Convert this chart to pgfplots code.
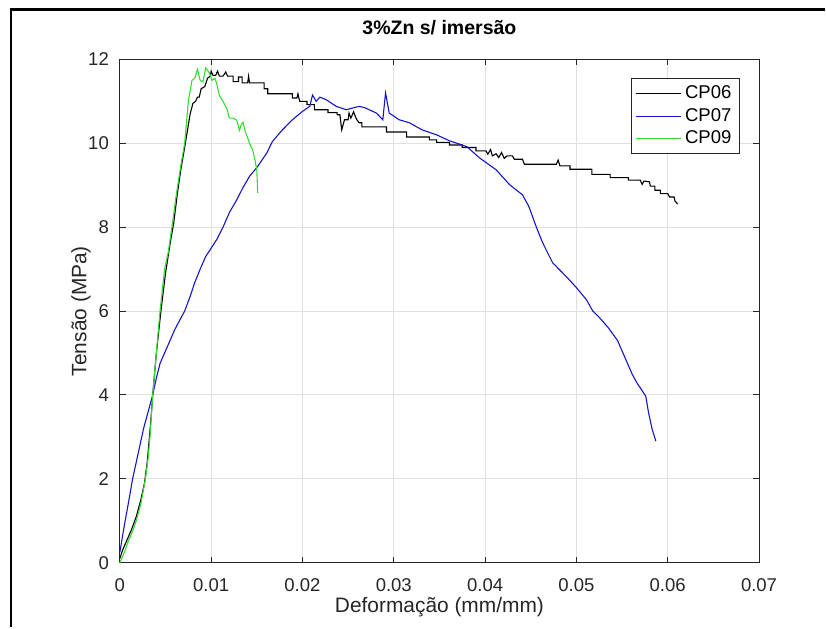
\documentclass[border=0pt]{standalone}
\usepackage{fontspec}
\setmainfont{Liberation Sans}
\usepackage{pgfplots}
\pgfplotsset{compat=1.18}

\definecolor{axgray}{gray}{0.15}
\definecolor{gridgray}{gray}{0.88}
\definecolor{cp07}{RGB}{20,20,200}
\definecolor{cp09}{RGB}{50,220,50}

\begin{document}
\begin{tikzpicture}
\begin{axis}[
  scale only axis,
  width=320bp, height=252bp,
  xmin=0, xmax=0.07, ymin=0, ymax=12,
  xtick={0,0.01,0.02,0.03,0.04,0.05,0.06,0.07},
  xticklabels={0,0.01,0.02,0.03,0.04,0.05,0.06,0.07},
  ytick={0,2,4,6,8,10,12},
  scaled x ticks=false,
  /pgf/number format/assume math mode=true,
  tick align=inside, major tick length=3bp,
  tick style={axgray, line width=0.5bp},
  axis line style={axgray, line width=0.5bp},
  grid=major, grid style={gridgray, line width=0.5bp},
  tick label style={font=\fontsize{9.3}{11}\selectfont, text=axgray},
  xticklabel style={yshift=-4.5bp},
  yticklabel style={xshift=-2bp},
  xlabel={Deformação (mm/mm)},
  ylabel={Tensão (MPa)},
  label style={font=\fontsize{10.5}{12}\selectfont, text=axgray},
  xlabel style={at={(axis description cs:0.5,-0.089)}, anchor=center},
  ylabel style={at={(axis description cs:-0.061,0.5)}, anchor=center},
  title={3\%Zn s/ imersão},
  title style={font=\bfseries\fontsize{9.8}{12}\selectfont, at={(axis description cs:0.5,1.025)}, anchor=base},
  legend style={at={(rel axis cs:0.970,0.963)}, anchor=north east,
    draw=axgray, line width=0.5bp, font=\fontsize{9.3}{12.25}\selectfont,
    inner xsep=2bp, inner ysep=1.5bp, row sep=-0.6bp},
  legend cell align=left,
  legend image code/.code={\draw[#1] (0bp,0bp) -- (22.5bp,0bp);},
  clip=false,
]
% CP06
\addplot[black, line width=0.55bp] coordinates {
(0,0.1) (0.0003,0.3) (0.0008,0.55) (0.0013,0.8) (0.0018,1.1) (0.0023,1.5)
(0.0027,1.9) (0.0030,2.4) (0.0032,2.9) (0.0034,3.4) (0.0036,4.0) (0.0040,5.0)
(0.0045,6.0) (0.0050,6.9) (0.0055,7.6) (0.0059,8.1) (0.0063,8.8) (0.0067,9.4)
(0.0071,9.9) (0.0074,10.3) (0.0077,10.7) (0.0080,10.95) (0.0083,11.0) (0.0085,11.1)
(0.0087,11.1) (0.0089,11.3) (0.0093,11.35) (0.0096,11.55) (0.0099,11.6) (0.0100,11.72)
(0.0102,11.62) (0.0105,11.62) (0.0107,11.72) (0.0109,11.6) (0.0113,11.6) (0.0116,11.7)
(0.0118,11.6) (0.0124,11.6) (0.0124,11.47) (0.0130,11.47) (0.0130,11.58) (0.0134,11.58)
(0.0134,11.44) (0.0140,11.44) (0.0141,11.6) (0.0142,11.44) (0.0158,11.44) (0.0158,11.3)
(0.0162,11.3) (0.0162,11.18) (0.0189,11.18) (0.0189,11.08) (0.0194,11.08) (0.0195,11.18)
(0.0197,11.0) (0.0205,11.0) (0.0205,10.92) (0.0213,10.92) (0.0213,10.8) (0.0228,10.8)
(0.0228,10.73) (0.0238,10.73) (0.0238,10.68) (0.0241,10.68) (0.0243,10.32) (0.0246,10.56)
(0.0250,10.56) (0.0251,10.72) (0.0253,10.6) (0.0256,10.75) (0.0259,10.58) (0.0262,10.49)
(0.0265,10.49) (0.0265,10.39) (0.0292,10.39) (0.0292,10.27) (0.0314,10.27) (0.0314,10.15)
(0.0339,10.15) (0.0339,10.08) (0.0347,10.08) (0.0347,10.02) (0.0361,10.02) (0.0361,9.96)
(0.0375,9.96) (0.0375,9.9) (0.0390,9.9) (0.0390,9.82) (0.0401,9.82) (0.0403,9.74)
(0.0406,9.85) (0.0408,9.7) (0.0412,9.75) (0.0415,9.66) (0.0418,9.78) (0.0421,9.64)
(0.0424,9.7) (0.0430,9.7) (0.0432,9.62) (0.0441,9.62) (0.0443,9.5) (0.0478,9.5)
(0.0480,9.6) (0.0482,9.46) (0.0493,9.46) (0.0493,9.38) (0.0517,9.38) (0.0517,9.26)
(0.0537,9.26) (0.0537,9.18) (0.0557,9.18) (0.0557,9.12) (0.0570,9.12) (0.0572,9.02)
(0.0574,9.1) (0.0580,9.08) (0.0581,8.98) (0.0586,8.98) (0.0586,8.88) (0.0592,8.88)
(0.0592,8.8) (0.0600,8.8) (0.0602,8.72) (0.0607,8.72) (0.0608,8.62) (0.0611,8.55)
};
\addlegendentry{CP06}
% CP07
\addplot[cp07, line width=0.55bp] coordinates {
(0,0.25) (0.0005,0.9) (0.0010,1.5) (0.0014,2.0) (0.0020,2.6) (0.0026,3.2)
(0.0031,3.6) (0.0036,4.0) (0.0040,4.4) (0.0044,4.75) (0.0049,5.0) (0.0055,5.3)
(0.0060,5.55) (0.0066,5.8) (0.0071,6.0) (0.0077,6.35) (0.0082,6.68) (0.0088,7.0)
(0.0094,7.3) (0.0100,7.5) (0.0106,7.7) (0.0113,8.0) (0.0120,8.35) (0.0128,8.65)
(0.0135,8.95) (0.0142,9.21) (0.0151,9.45) (0.0161,9.77) (0.0167,10.04) (0.0178,10.32)
(0.0189,10.56) (0.0200,10.76) (0.0208,10.88) (0.0211,11.15) (0.0215,11.0) (0.0219,11.1)
(0.0226,11.04) (0.0237,10.88) (0.0248,10.8) (0.0262,10.88) (0.0268,10.85) (0.0281,10.72)
(0.0288,10.56) (0.0291,11.2) (0.0295,10.72) (0.0306,10.56) (0.0317,10.49) (0.0331,10.32)
(0.0347,10.2) (0.0361,10.06) (0.0380,9.92) (0.0394,9.65) (0.0412,9.37) (0.0427,9.01)
(0.0441,8.77) (0.0448,8.49) (0.0456,8.01) (0.0463,7.63) (0.0474,7.15) (0.0489,6.82)
(0.0500,6.56) (0.0511,6.27) (0.0518,6.0) (0.0525,5.85) (0.0535,5.6) (0.0545,5.3)
(0.0553,4.9) (0.0561,4.5) (0.0566,4.3) (0.0576,3.97) (0.0579,3.58) (0.0583,3.18)
(0.0587,2.9)
};
\addlegendentry{CP07}
% CP09
\addplot[cp09, line width=0.55bp] coordinates {
(0,0) (0.0005,0.25) (0.0009,0.5) (0.0014,0.75) (0.0018,1.0) (0.0023,1.4)
(0.0028,2.0) (0.0031,2.5) (0.0033,3.0) (0.0036,4.0) (0.0040,5.0) (0.0044,6.0)
(0.0049,7.0) (0.0053,7.4) (0.0057,8.0) (0.0062,8.8) (0.0067,9.5) (0.0071,10.0)
(0.0075,11.0) (0.0079,11.5) (0.0082,11.55) (0.0085,11.76) (0.0088,11.5) (0.0091,11.46)
(0.0094,11.8) (0.0098,11.68) (0.0101,11.5) (0.0104,11.55) (0.0106,11.43) (0.0109,11.14)
(0.0113,11.0) (0.0117,10.83) (0.0120,10.6) (0.0124,10.6) (0.0128,10.55) (0.0131,10.31)
(0.0133,10.45) (0.0135,10.5) (0.0137,10.3) (0.0139,10.19) (0.0142,10.0) (0.01455,9.84)
(0.0148,9.6) (0.0150,9.36) (0.0151,8.82)
};
\addlegendentry{CP09}
\coordinate (bl) at (rel axis cs:-0.1875,-0.128);
\coordinate (tr) at (rel axis cs:1.1031,1.118);
\coordinate (fl) at (rel axis cs:-0.1703,1.0992);
\end{axis}
\pgfresetboundingbox
\path (bl) rectangle (tr);
\draw[black, line width=1.1bp] (fl |- bl) -- (fl) -- (fl -| tr);
\end{tikzpicture}
\end{document}
